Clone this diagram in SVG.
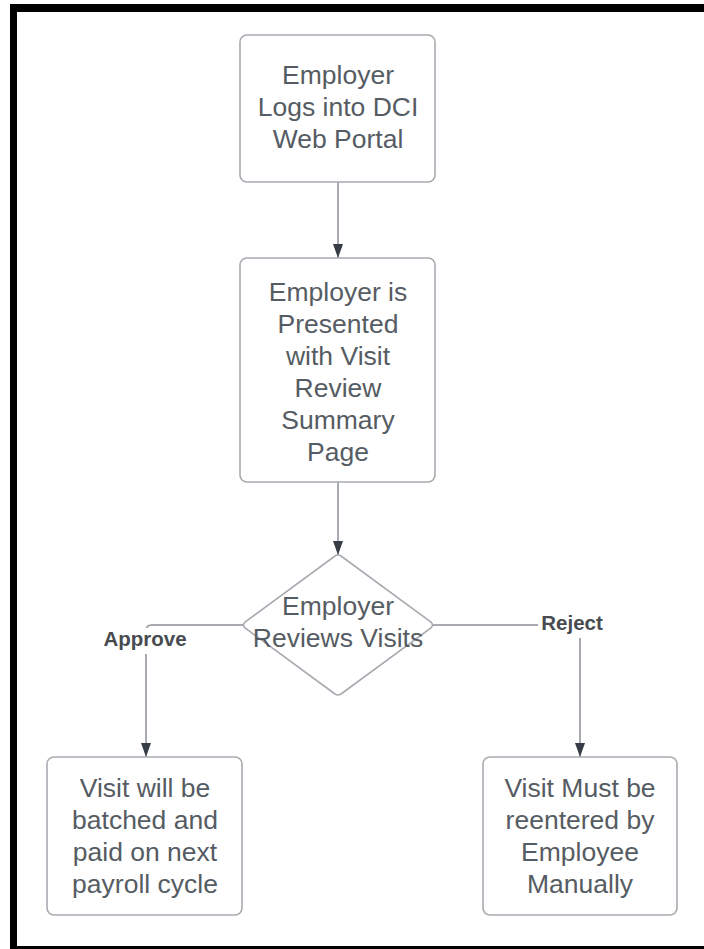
<svg xmlns="http://www.w3.org/2000/svg" width="704" height="949" viewBox="0 0 704 949">
<defs>
<style>
.node{fill:#ffffff;stroke:#a7abb0;stroke-width:1.6}
.t{font-family:"Liberation Sans",Arial,sans-serif;font-size:26.5px;fill:#565c63;text-anchor:middle}
.lbl{font-family:"Liberation Sans",Arial,sans-serif;font-size:20.5px;font-weight:bold;fill:#474b50;text-anchor:middle}
.c{fill:none;stroke:#a7abb0;stroke-width:2}
</style>
<marker id="ah" markerWidth="14" markerHeight="10" refX="14" refY="5" orient="auto" markerUnits="userSpaceOnUse" viewBox="0 0 14 10">
<path d="M0,0 L14,5 L0,10 Z" fill="#363d46"/>
</marker>
</defs>
<rect x="0" y="0" width="704" height="949" fill="#ffffff"/>
<g id="frame">
<rect x="10" y="4" width="694" height="8" fill="#000"/>
<rect x="10" y="4" width="7" height="945" fill="#000"/>
<rect x="10" y="946" width="694" height="3" fill="#000"/>
</g>
<g id="connectors">
<line class="c" x1="338" y1="182" x2="338" y2="258" marker-end="url(#ah)"/>
<line class="c" x1="338" y1="482" x2="338" y2="555" marker-end="url(#ah)"/>
<path class="c" d="M243,625 H152 Q146,625 146,631 V757" marker-end="url(#ah)"/>
<path class="c" d="M433,625 H574 Q580,625 580,631 V757" marker-end="url(#ah)"/>
<rect x="100" y="628" width="92" height="26" fill="#ffffff"/>
<text class="lbl" x="145" y="646">Approve</text>
<rect x="538" y="610" width="68" height="28" fill="#ffffff"/>
<text class="lbl" x="572" y="630">Reject</text>
</g>
<g id="n1">
<rect class="node" x="240" y="35" width="195" height="147" rx="7"/>
<text class="t" x="338" y="84">Employer</text>
<text class="t" x="338" y="116">Logs into DCI</text>
<text class="t" x="338" y="148">Web Portal</text>
</g>
<g id="n2">
<rect class="node" x="240" y="258" width="195" height="224" rx="7"/>
<text class="t" x="338" y="301">Employer is</text>
<text class="t" x="338" y="333">Presented</text>
<text class="t" x="338" y="365">with Visit</text>
<text class="t" x="338" y="397">Review</text>
<text class="t" x="338" y="429">Summary</text>
<text class="t" x="338" y="461">Page</text>
</g>
<g id="n3">
<path class="node" d="M335,556 Q338,554 341,556 L431,622 Q434,625 431,628 L341,694 Q338,696 335,694 L245,628 Q242,625 245,622 Z"/>
<text class="t" x="338" y="615">Employer</text>
<text class="t" x="338" y="647">Reviews Visits</text>
</g>
<g id="n4">
<rect class="node" x="47" y="757" width="195" height="158" rx="7"/>
<text class="t" x="145" y="797">Visit will be</text>
<text class="t" x="145" y="829">batched and</text>
<text class="t" x="145" y="861">paid on next</text>
<text class="t" x="145" y="893">payroll cycle</text>
</g>
<g id="n5">
<rect class="node" x="483" y="757" width="194" height="158" rx="7"/>
<text class="t" x="580" y="797">Visit Must be</text>
<text class="t" x="580" y="829">reentered by</text>
<text class="t" x="580" y="861">Employee</text>
<text class="t" x="580" y="893">Manually</text>
</g>
</svg>
